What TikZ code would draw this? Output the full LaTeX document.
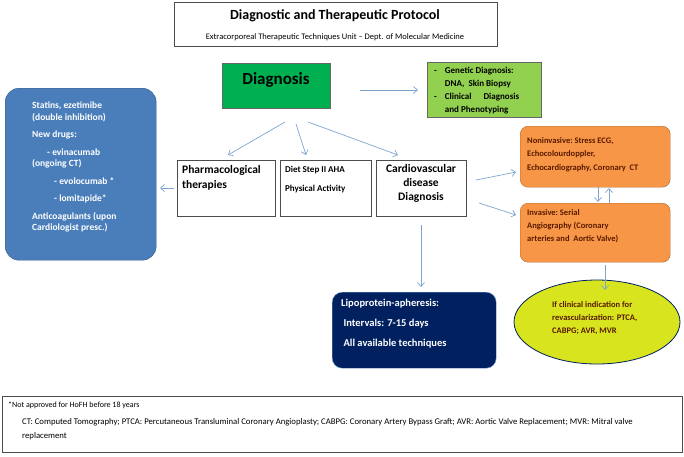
\documentclass[tikz,border=0pt]{standalone}
\usepackage{fontspec}
\setmainfont{Carlito}
\usetikzlibrary{shapes.geometric,arrows.meta}
\definecolor{arr}{HTML}{7FA5CF}
\definecolor{gdark}{HTML}{00B050}
\definecolor{glight}{HTML}{92D050}
\definecolor{bluebox}{HTML}{4A7EBB}
\definecolor{orangebox}{HTML}{F79646}
\definecolor{navy}{HTML}{002060}
\definecolor{yel}{HTML}{D7E41E}
\definecolor{dred}{HTML}{5A1A00}
\begin{document}
\begin{tikzpicture}[x=1pt,y=-1pt,
 box/.style={draw=black!70,line width=0.6pt,fill=white},
 ar/.style={draw=arr,line width=0.7pt,-{Straight Barb[length=4pt,width=7pt]}},
 txt/.style={inner sep=0,anchor=north west,align=left}]
\useasboundingbox (0,0) rectangle (684,456);
% title
\draw[box] (174,2) rectangle (497,46);
\node[inner sep=0,font=\fontsize{14}{15}\selectfont\bfseries] (t1) at (335,16) {Diagnostic and Therapeutic Protocol};
\node[inner sep=0,font=\fontsize{8.5}{9}\selectfont] (t2) at (335,37) {Extracorporeal Therapeutic Techniques Unit -- Dept. of Molecular Medicine};
% diagnosis
\node[draw=black!60,fill=gdark,minimum width=108,minimum height=45,anchor=north west,inner sep=0] (dg) at (222,63) {};
\node[inner sep=0,font=\fontsize{17}{18}\selectfont\bfseries] at (276,80) {Diagnosis};
\node[draw=black!60,fill=glight,minimum width=114,minimum height=55,anchor=north west,inner sep=0] (gen) at (427,62) {};
\node[txt,font=\fontsize{9}{13}\selectfont\bfseries] at (434,64) {\begin{tabular}{@{}r@{\hspace{8pt}}l@{}}-& Genetic Diagnosis:\\ & DNA,\ \ Skin Biopsy\\ -& Clinical\hspace{12pt}Diagnosis\\ & and Phenotyping\end{tabular}};
% left blue
\node[draw=bluebox!70!black,fill=bluebox,rounded corners=14,minimum width=151,minimum height=172,anchor=north west,inner sep=0] (bl) at (5,88) {};
\node[txt,text=white,font=\fontsize{9.5}{11.5}\selectfont\bfseries] at (32,102) {%
\begin{minipage}[t]{120pt}
Statins, ezetimibe\\(double inhibition)\\[6pt]
New drugs:\\[6pt]
\hspace*{15pt}- evinacumab\\(ongoing CT)\\[6pt]
\hspace*{22pt}- evolocumab *\\[6pt]
\hspace*{22pt}- lomitapide*\\[6pt]
Anticoagulants (upon\\Cardiologist\ presc.)
\end{minipage}};
% three boxes
\node[box,minimum width=98,minimum height=56,anchor=north west,inner sep=0] (ph) at (177,160) {};
\node[txt,font=\fontsize{11.5}{15}\selectfont\bfseries] at (182,165) {Pharmacological\\therapies};
\node[box,minimum width=91,minimum height=56,anchor=north west,inner sep=0] (di) at (280,160) {};
\node[txt,font=\fontsize{9}{10}\selectfont\bfseries] at (285,166) {Diet Step II AHA\\[9pt]Physical Activity};
\node[box,minimum width=90,minimum height=56,anchor=north west,inner sep=0] (cv) at (376,160) {};
\node[inner sep=0,align=center,anchor=north,font=\fontsize{11.5}{14}\selectfont\bfseries] at (421,164) {Cardiovascular\\disease\\Diagnosis};
% orange
\node[draw=orangebox!70!black,fill=orangebox,rounded corners=8,minimum width=150,minimum height=61,anchor=north west,inner sep=0] (ni) at (520,126) {};
\node[txt,text=dred,font=\fontsize{8.5}{13.5}\selectfont\bfseries] at (527,137) {Noninvasive:\ Stress ECG,\\Echocolourdoppler,\\Echocardiography, Coronary\ \ CT};
\node[draw=orangebox!70!black,fill=orangebox,rounded corners=8,minimum width=150,minimum height=59,anchor=north west,inner sep=0] (iv) at (520,203) {};
\node[txt,text=dred,font=\fontsize{8.5}{13}\selectfont\bfseries] at (527,209) {Invasive:\ Serial\\Angiography (Coronary\\arteries and\ \ Aortic Valve)};
% lipo
\node[draw=arr,fill=navy,rounded corners=10,minimum width=164,minimum height=76,anchor=north west,inner sep=0] (lp) at (332,292) {};
\node[txt,text=white,font=\fontsize{10.5}{12}\selectfont\bfseries] at (341,299) {Lipoprotein-apheresis:\\[8pt]\ Intervals: 7-15 days\\[8pt]\ All available techniques};
% ellipse
\node[ellipse,draw=navy,line width=0.8pt,fill=yel,minimum width=166,minimum height=84,inner sep=0] (el) at (597,322) {};
\node[txt,text=dred,font=\fontsize{8.5}{13}\selectfont\bfseries] at (552,301) {If clinical indication for\\revascularization: PTCA,\\CABPG; AVR, MVR};
% footer
\draw[line width=0.6pt,draw=black!70] (2,396) rectangle (682,452);
\node[txt,font=\fontsize{8}{8}\selectfont] (f1) at (8,402) {*Not approved for HoFH before 18 years};
\node[txt,font=\fontsize{8.7}{14}\selectfont] (f2) at (22,418) {CT: Computed Tomography; PTCA: Percutaneous Transluminal Coronary Angioplasty; CABPG: Coronary Artery Bypass Graft; AVR: Aortic Valve Replacement; MVR: Mitral valve\\replacement};
% arrows
\coordinate (d0) at (360,90); \coordinate (d1) at (418,90);
\draw[ar] (d0) -- (d1);
\coordinate (a0) at (285,122); \coordinate (a1) at (228,155);
\coordinate (b0) at (296,124); \coordinate (b1) at (306,155);
\coordinate (c0) at (308,122); \coordinate (c1) at (398,155);
\draw[ar] (a0) -- (a1); \draw[ar] (b0) -- (b1); \draw[ar] (c0) -- (c1);
\coordinate (p0) at (174,188); \coordinate (p1) at (160,188);
\draw[ar] (p0) -- (p1);
\coordinate (n0) at (476,180); \coordinate (n1) at (516,172);
\draw[ar] (n0) -- (n1);
\coordinate (i0) at (479,203); \coordinate (i1) at (516,215);
\draw[ar] (i0) -- (i1);
\coordinate (v0) at (598,187); \coordinate (v1) at (598,202);
\draw[ar] (v0) -- (v1);
\coordinate (u0) at (609,203); \coordinate (u1) at (609,188);
\draw[ar] (u0) -- (u1);
\coordinate (e0) at (605,265); \coordinate (e1) at (605,290);
\draw[ar] (e0) -- (e1);
\coordinate (l0) at (421,225); \coordinate (l1) at (421,287);
\draw[ar] (l0) -- (l1);
\end{tikzpicture}
\end{document}
